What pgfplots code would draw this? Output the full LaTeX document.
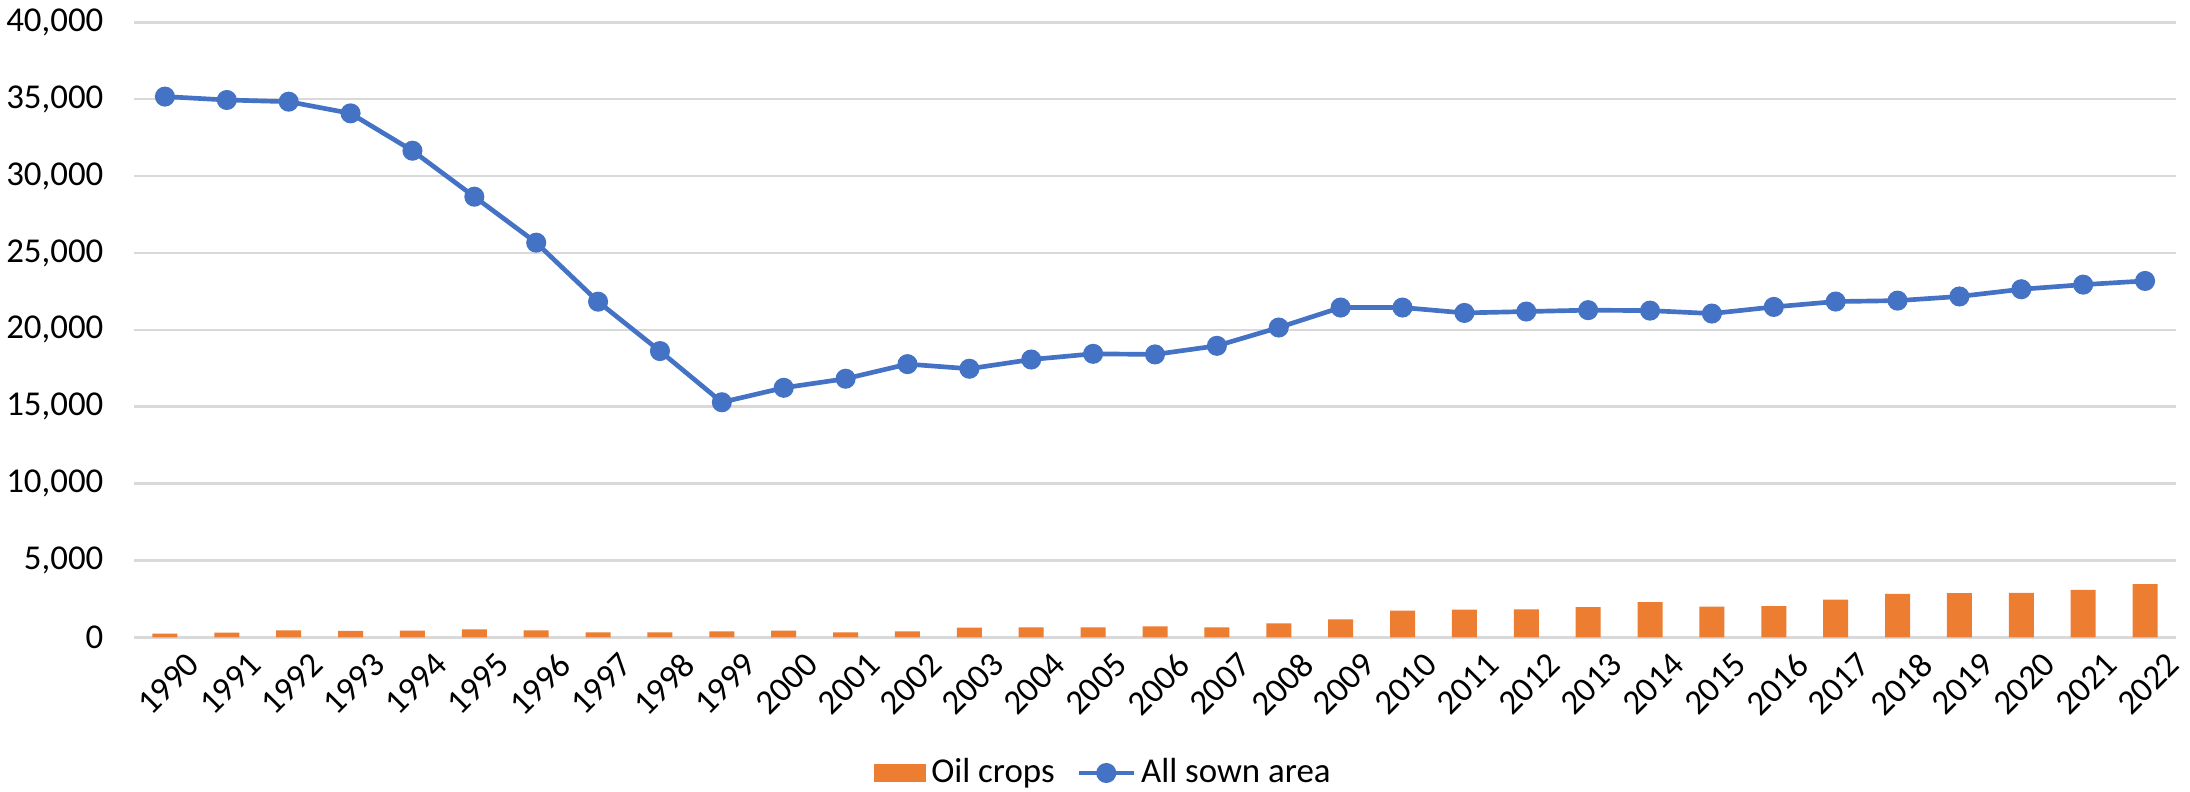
\documentclass[border=0pt]{standalone}
\usepackage{fontspec}
\setmainfont{Carlito}
\usepackage{pgfplots}
\pgfplotsset{compat=1.18}

\definecolor{oilc}{HTML}{ED7D31}
\definecolor{sownc}{HTML}{4472C4}
\definecolor{gridc}{HTML}{D9D9D9}

\begin{document}
\begin{tikzpicture}
\useasboundingbox (0,0) rectangle (657bp,237.6bp);
\begin{axis}[
    at={(40.2bp,46.4bp)}, anchor=south west,
    width=612.6bp, height=184.5bp, scale only axis,
    xmin=1989.5, xmax=2022.5,
    ymin=0, ymax=40000,
    xtick={1990,...,2022},
    ytick={0,5000,...,40000},
    scaled y ticks=false,
    axis line style={draw=none},
    major tick length=0pt,
    ymajorgrids, grid style={gridc, line width=0.75bp},
    /pgf/number format/assume math mode=true,
    tick label style={font=\fontsize{10.5}{12}\selectfont},
    xticklabel style={/pgf/number format/1000 sep={}, rotate=45, anchor=north east, inner sep=0pt, xshift=1.6bp, yshift=-7bp},
    yticklabel style={/pgf/number format/1000 sep={,}, anchor=east, inner sep=0pt, xshift=-9bp},
    legend columns=2,
    legend style={at={(0.4755,-0.2206)}, anchor=center, draw=none, fill=none,
        font=\fontsize{10.5}{12}\selectfont,
        nodes={inner sep=1.5bp},
        /tikz/every even column/.append style={column sep=5bp}},
]
\addplot[ybar, bar width=7.5bp, fill=oilc, draw=none,
    legend image code/.code={\fill[oilc] (0bp,-2.7bp) rectangle (15.6bp,2.7bp);}]
coordinates {
(1990,240) (1991,300) (1992,457) (1993,413) (1994,435) (1995,522) (1996,457)
(1997,326) (1998,326) (1999,391) (2000,435) (2001,326) (2002,391) (2003,630)
(2004,652) (2005,652) (2006,717) (2007,652) (2008,913) (2009,1174) (2010,1739)
(2011,1804) (2012,1826) (2013,1957) (2014,2283) (2015,2000) (2016,2022)
(2017,2457) (2018,2826) (2019,2870) (2020,2891) (2021,3087) (2022,3457)
};
\addlegendentry{Oil crops}
\addplot[sownc, line width=1.4bp, mark=*, mark size=2.3bp, mark options={fill=sownc, draw=sownc},
    legend image code/.code={\draw[sownc, line width=1.4bp] (0bp,0bp) -- (16.5bp,0bp);
        \fill[sownc] (8.25bp,0bp) circle (2.3bp);}]
coordinates {
(1990,35170) (1991,34950) (1992,34840) (1993,34080) (1994,31650) (1995,28660)
(1996,25670) (1997,21830) (1998,18620) (1999,15290) (2000,16230) (2001,16820)
(2002,17770) (2003,17470) (2004,18070) (2005,18440) (2006,18400) (2007,18960)
(2008,20150) (2009,21450) (2010,21450) (2011,21100) (2012,21190) (2013,21280)
(2014,21250) (2015,21060) (2016,21490) (2017,21840) (2018,21900) (2019,22170)
(2020,22640) (2021,22940) (2022,23180)
};
\addlegendentry{All sown area}
\end{axis}
\end{tikzpicture}
\end{document}
